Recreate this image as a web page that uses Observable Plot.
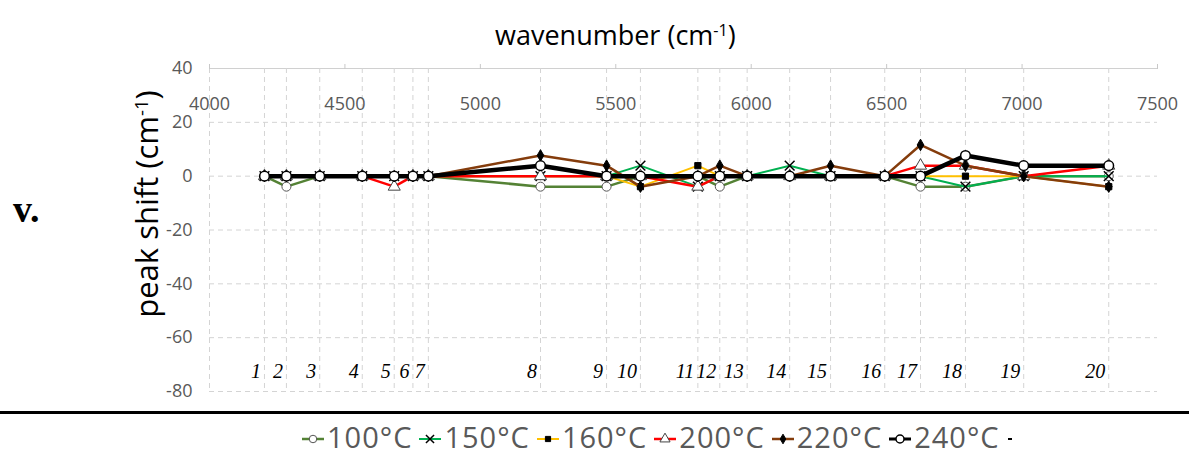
<!DOCTYPE html>
<html>
<head>
<meta charset="utf-8">
<script src="https://cdn.jsdelivr.net/npm/d3@7"></script>
<script src="https://cdn.jsdelivr.net/npm/@observablehq/plot@0.6"></script>
<style>
  html, body { margin: 0; padding: 0; background: #fff; }
  #wrap { position: relative; width: 1189px; height: 459px; overflow: hidden; font-family: "Open Sans", sans-serif; }
  #chart { position: absolute; left: 0; top: 44px; }
  #title { position: absolute; left: 495px; top: 17px; font-size: 27px; color: #000; white-space: nowrap; line-height: 36px; }
  #title sup, #ylab sup { font-size: 0.6em; vertical-align: 0.55em; line-height: 0; }
  #ylab { position: absolute; left: 146px; top: 204px; transform: translate(-50%, -50%) rotate(-90deg); font-size: 31px; white-space: nowrap; color: #000; line-height: 40px; }
  #roman { position: absolute; left: 13px; top: 189px; font-family: "Liberation Serif", serif; font-weight: bold; font-size: 38px; line-height: 40px; }
  #rule { position: absolute; left: 0; top: 411px; width: 1189px; height: 3px; background: #000; }
  #legend { position: absolute; left: 302px; top: 421px; display: flex; align-items: center; font-size: 29px; letter-spacing: 1px; color: #595959; white-space: nowrap; line-height: 32px; height: 32px; }
  #legend .item { display: flex; align-items: center; margin-right: 7px; }
  #legend svg { margin-right: 3px; }
</style>
</head>
<body>
<div id="wrap">
  <div id="title">wavenumber (cm<sup>-1</sup>)</div>
  <div id="ylab">peak shift (cm<sup>-1</sup>)</div>
  <div id="roman">v.</div>
  <div id="chart"></div>
  <div id="rule"></div>
  <div id="legend"></div>
</div>
<script>
// ---- data ----
const wavenumbers = [4203, 4284, 4407, 4564, 4682, 4751, 4808, 5222, 5466, 5591, 5803, 5884, 5985, 6142, 6293, 6493, 6625, 6791, 7006, 7320];
const peakLabels = ["1","2","3","4","5","6","7","8","9","10","11","12","13","14","15","16","17","18","19","20"];
const seriesNames = ["100°C", "150°C", "160°C", "200°C", "220°C", "240°C"];
const shift100 = [0, -3.9, 0, 0, 0, 0, 0, -3.9, -3.9, 0, 0, -3.9, 0, 0, 0, 0, -3.9, -3.9, 0, 0];
const shift150 = [0, 0, 0, 0, 0, 0, 0, 0, 0, 3.9, -3.9, 0, 0, 3.9, 0, 0, 0, -3.9, 0, 0];
const shift160 = [0, 0, 0, 0, 0, 0, 0, 0, 0, -3.9, 3.9, 0, 0, 0, 0, 0, 0, 0, 0, -3.9];
const shift200 = [0, 0, 0, 0, -3.9, 0, 0, 0, 0, 0, -3.9, 0, 0, 0, 0, 0, 3.9, 3.9, 0, 3.9];
const shift220 = [0, 0, 0, 0, 0, 0, 0, 7.7, 3.9, -3.9, 0, 3.9, 0, 0, 3.9, 0, 11.6, 3.9, 0, -3.9];
const shift240 = [0, 0, 0, 0, 0, 0, 0, 3.9, 0, 0, 0, 0, 0, 0, 0, 0, 0, 7.7, 3.9, 3.9];
const xTicks = [4000, 4500, 5000, 5500, 6000, 6500, 7000, 7500];
const yTicks = [40, 20, 0, -20, -40, -60, -80];

// ---- styles ----
const seriesValues = [shift100, shift150, shift160, shift200, shift220, shift240];
const styles = [
  {color: "#548235", width: 2.5, symbol: "circle",   r: 4.5, fill: "#fff", stroke: "#555", sw: 1},
  {color: "#00b050", width: 2,   symbol: "times",    r: 4.5, fill: "none", stroke: "#000", sw: 1.5},
  {color: "#ffc000", width: 2,   symbol: "square",   r: 3.5, fill: "#000", stroke: "#000", sw: 1},
  {color: "#ff0000", width: 2.5, symbol: "triangle", r: 4.5, fill: "#fff", stroke: "#444", sw: 1},
  {color: "#843c0c", width: 2.5, symbol: "diamond",  r: 3.5, fill: "#000", stroke: "#000", sw: 1},
  {color: "#000000", width: 4.5, symbol: "circle",   r: 4.8, fill: "#fff", stroke: "#000", sw: 1.5}
];

const rows = seriesNames.flatMap((s, k) => wavenumbers.map((x, i) => ({x, y: seriesValues[k][i], s})));
const peaks = wavenumbers.map((x, i) => ({x, label: peakLabels[i]}));

const seriesMarks = seriesNames.flatMap((s, k) => {
  const d = rows.filter(r => r.s === s);
  const st = styles[k];
  return [
    Plot.line(d, {x: "x", y: "y", stroke: st.color, strokeWidth: st.width}),
    Plot.dot(d, {x: "x", y: "y", symbol: st.symbol, r: st.r, fill: st.fill, stroke: st.stroke, strokeWidth: st.sw})
  ];
});

// plot frame: x 209..1157, y 68..391 in page pixels (svg top at 44)
const chart = Plot.plot({
  width: 1189,
  height: 366,
  marginLeft: 209,
  marginRight: 32,
  marginTop: 24,
  marginBottom: 19,
  style: {fontFamily: "Open Sans, sans-serif", fontSize: "18px", color: "#595959", background: "transparent", overflow: "visible"},
  x: {domain: [4000, 7500]},
  y: {domain: [-80, 40]},
  marks: [
    Plot.ruleY(yTicks.filter(t => t !== 40), {y: d => d, stroke: "#d4d4d4", strokeDasharray: "5,4", strokeWidth: 1}),
    Plot.ruleY([40], {y: d => d, stroke: "#d0d0d0", strokeWidth: 1}),
    Plot.ruleX([4000, ...wavenumbers], {x: d => d, stroke: "#d4d4d4", strokeDasharray: "5,4", strokeWidth: 1}),
    Plot.axisY({ticks: yTicks, tickSize: 0, tickPadding: 17, tickFormat: d => String(d), label: null}),
    Plot.axisX({anchor: "top", ticks: xTicks, tickSize: 5, tickFormat: () => "", label: null, stroke: "#c8c8c8"}),
    Plot.text(xTicks, {x: d => d, text: d => String(d), frameAnchor: "top", dy: 29, fill: "#595959", fontSize: 18}),
    Plot.text(peaks, {x: "x", text: "label", frameAnchor: "bottom", dy: -14, dx: -3.5, textAnchor: "end",
      fontFamily: "Liberation Serif, serif", fontStyle: "italic", fontSize: 20, fill: "#000"}),
    ...seriesMarks
  ]
});
document.getElementById("chart").appendChild(chart);

// ---- legend ----
const legend = d3.select("#legend");
seriesNames.forEach((s, k) => {
  const st = styles[k];
  const item = legend.append("div").attr("class", "item");
  const svg = item.append("svg").attr("width", 22).attr("height", 20);
  svg.append("line").attr("x1", 0).attr("x2", 22).attr("y1", 12).attr("y2", 12)
    .attr("stroke", st.color).attr("stroke-width", Math.min(st.width, 3));
  const sym = {circle: d3.symbolCircle, times: d3.symbolTimes, square: d3.symbolSquare, triangle: d3.symbolTriangle, diamond: d3.symbolDiamond}[st.symbol];
  const size = Math.PI * st.r * st.r * 0.7;
  svg.append("path").attr("d", d3.symbol(sym, size)()).attr("transform", "translate(11,12)")
    .attr("fill", st.fill).attr("stroke", st.stroke).attr("stroke-width", st.sw);
  item.append("span").text(s);
});
const tail = legend.append("div").attr("class", "item");
tail.append("svg").attr("width", 6).attr("height", 20).append("line")
  .attr("x1", 1).attr("x2", 5).attr("y1", 12).attr("y2", 12).attr("stroke", "#000").attr("stroke-width", 2);
</script>
</body>
</html>
